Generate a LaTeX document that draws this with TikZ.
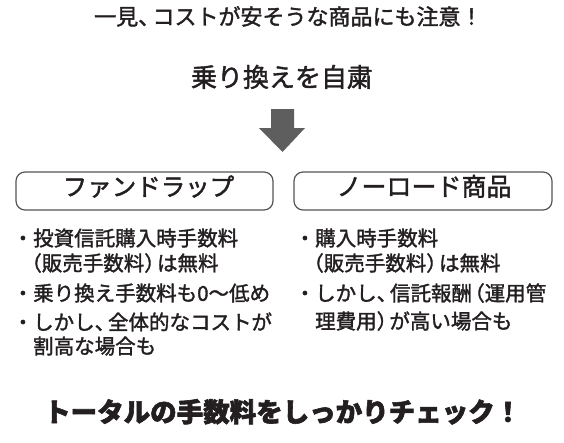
\documentclass[tikz,border=0pt]{standalone}
\usepackage{fontspec}
\setmainfont{Noto Sans CJK JP}
\newfontfamily\jpmed{Noto Sans CJK JP}[FakeBold=1.6]
\newfontfamily\jpheavy{Noto Sans CJK JP}[FakeBold=2.2]
\newcommand{\lpar}{\makebox[0.42em][r]{（}}
\newcommand{\rpar}{\makebox[0.62em][l]{）}}
\newcommand{\jcomma}{\makebox[0.65em][l]{、}}
\definecolor{ink}{HTML}{231F20}
\definecolor{boxline}{HTML}{555555}
\definecolor{arrowgray}{HTML}{5E5E5E}
\tikzset{
  txt/.style={inner sep=0pt, text=ink, text height=0.88em, text depth=0.12em},
  bodytxt/.style={txt, anchor=west, font=\fontsize{20.5}{22}\jpmed},
  headbox/.style={draw=boxline, line width=1.2pt, rounded corners=9pt},
  boxtitle/.style={txt, font=\fontsize{25}{27}\jpmed},
}
\begin{document}
\begin{tikzpicture}[x=1pt,y=-1pt]
\useasboundingbox (0,0) rectangle (564,442);
\node[txt, anchor=west, font=\fontsize{22}{24}\jpmed] (title) at (94,21) {一見\jcomma コストが安そうな商品にも注意！};
\node[txt, font=\fontsize{26}{28}\jpmed] (sub) at (282,83) {乗り換えを自粛};
\fill[arrowgray] (271,109) -- (294,109) -- (294,128) -- (305,128) -- (282.5,152) -- (259,128) -- (271,128) -- cycle;
\coordinate (arrowtop) at (282.5,109);
% boxes
\draw[headbox] (16,172) rectangle (273,210);
\node[boxtitle, font=\fontsize{24.5}{26}\jpmed] (fw) at (148.5,192) {ファンドラップ};
\draw[headbox] (294,172) rectangle (552,210);
\node[boxtitle] (nl) at (424,192) {ノーロード商品};
% left bullets
\node[bodytxt] (l1) at (12.5,242) {・投資信託購入時手数料};
\node[bodytxt] (l2) at (33,267) {\lpar 販売手数料\rpar は無料};
\node[bodytxt] (l3) at (12.5,297) {・乗り換え手数料も0〜低め};
\node[bodytxt] (l4) at (12.5,326) {・しかし\jcomma 全体的なコストが};
\node[bodytxt] (l5) at (33,350) {割高な場合も};
% right bullets
\node[bodytxt] (r1) at (294.5,242) {・購入時手数料};
\node[bodytxt] (r2) at (315,267) {\lpar 販売手数料\rpar は無料};
\node[bodytxt] (r3) at (294.5,297) {・しかし\jcomma 信託報酬\makebox[0.62em][r]{（}運用管};
\node[bodytxt] (r4) at (315,325) {理費用\rpar が高い場合も};
% bottom
\node[txt, anchor=west, font=\fontsize{26.5}{28}\jpheavy\bfseries] (bottom) at (44,418) {トータルの手数料をしっかりチェック！};
\end{tikzpicture}
\end{document}
